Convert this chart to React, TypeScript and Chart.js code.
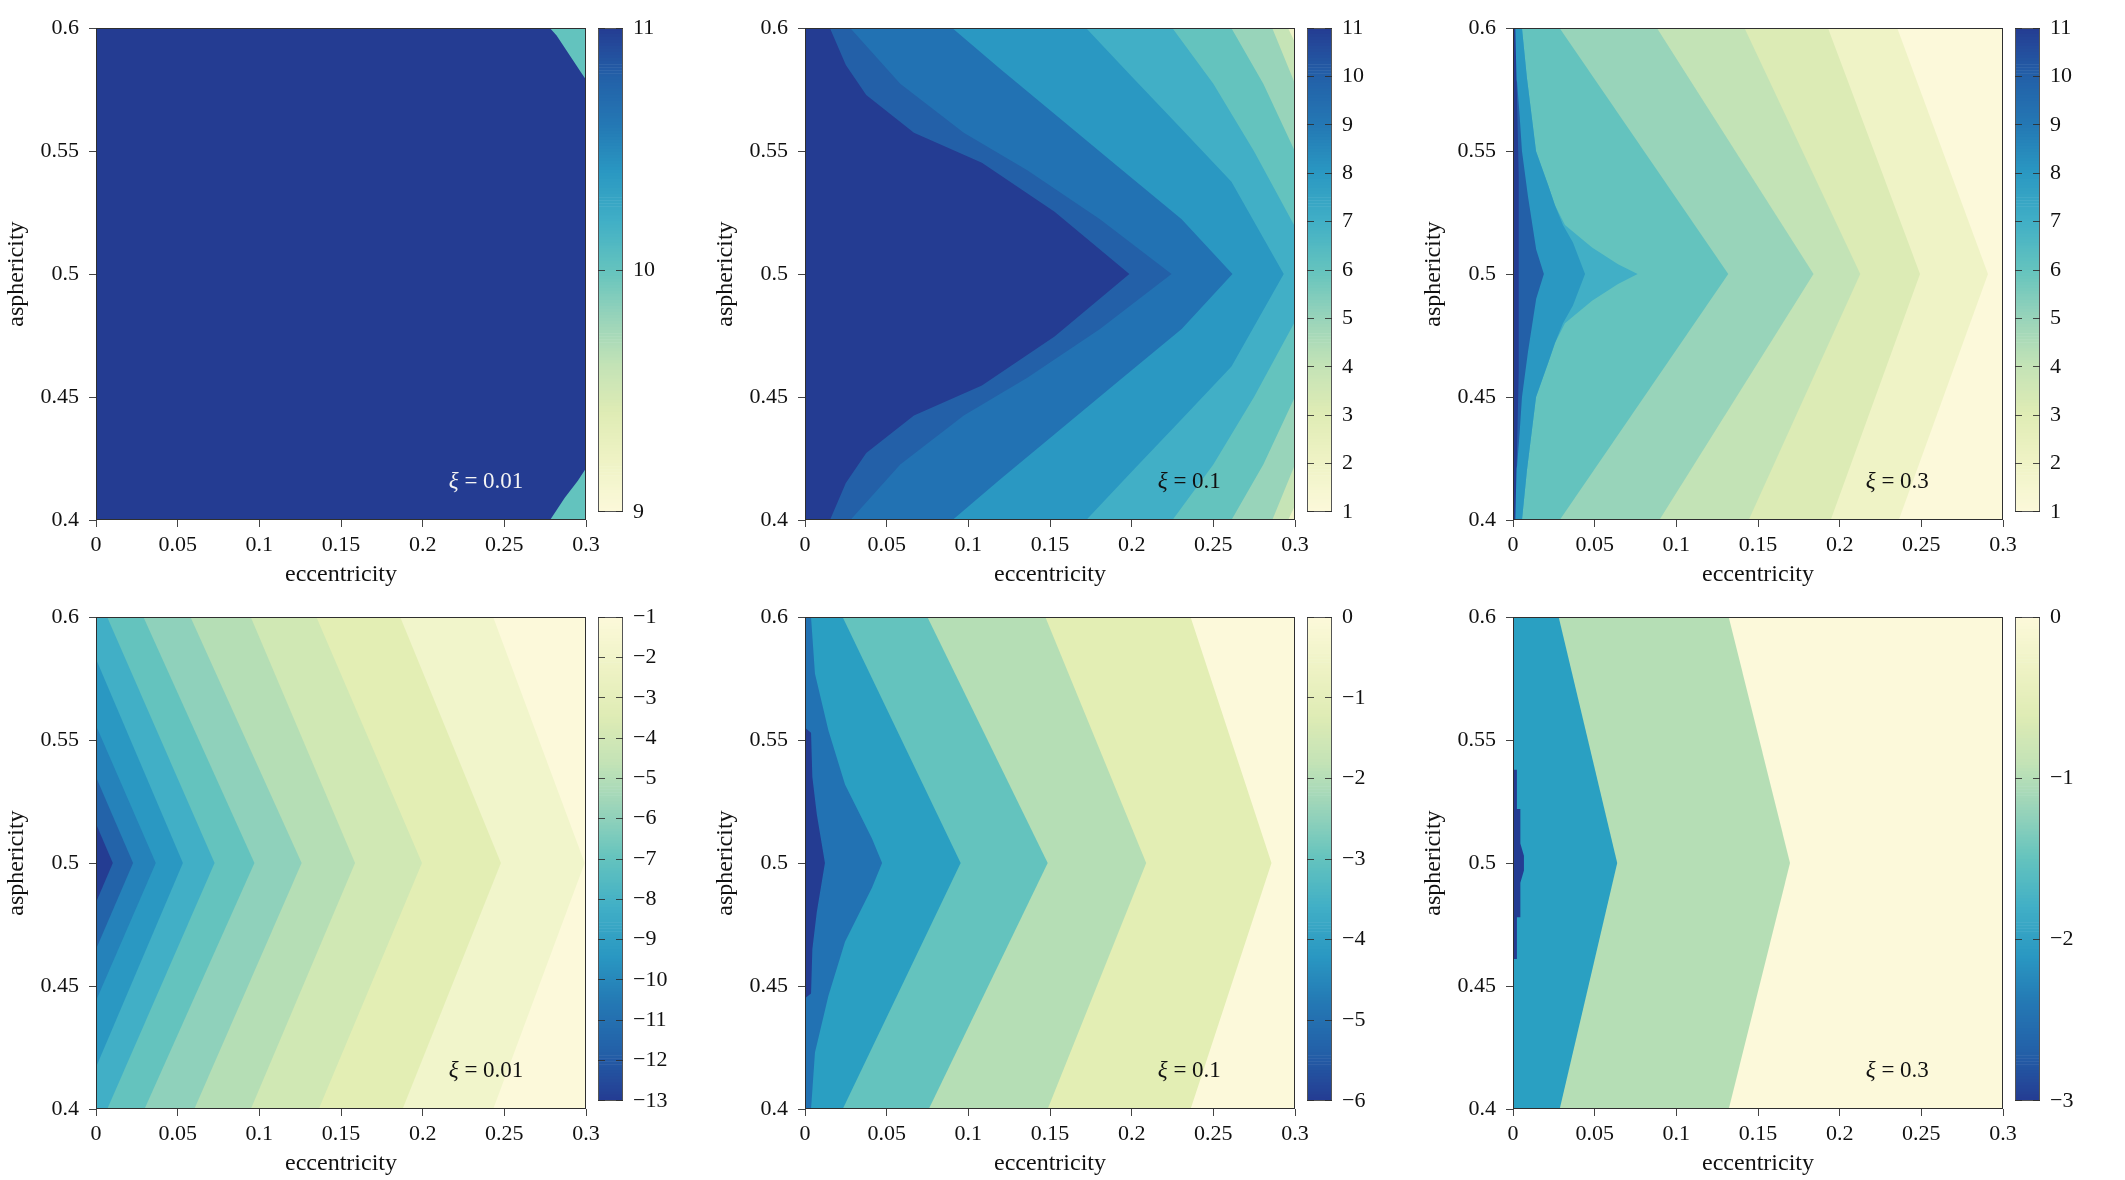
import React, { useEffect, useRef } from 'react';
import { Chart, registerables } from 'chart.js';

Chart.register(...registerables);

type Pt = [number, number];
type Side = 'left' | 'right';
interface Region { color: string; side: Side; pts: Pt[] }

const SERIF = '"Liberation Serif", "DejaVu Serif", serif';

const ECC_MIN = 0;
const ECC_MAX = 0.3;
const ASPH_MIN = 0.4;
const ASPH_MAX = 0.6;

const eccentricityTicks = [0, 0.05, 0.1, 0.15, 0.2, 0.25, 0.3];
const asphericityTicks = [0.4, 0.45, 0.5, 0.55, 0.6];

// YlGnBu-style colormap, light → dark
const colormapStops = [
  '#FCF9DA', '#EFF3C6', '#E0ECB5', '#C4E3B6', '#98D4BA', '#64C3BE',
  '#41AFC6', '#2A98C2', '#2478B4', '#2360A8', '#243C92',
];

// ---- top row, ξ = 0.01 (range 9 … 11) ----
const topXi001Base = '#243C92';
const topXi001Regions: Region[] = [
  { color: '#63C3BE', side: 'right', pts: [[0.278, 0.6], [0.282, 0.597], [0.29, 0.589], [0.297, 0.582], [0.3, 0.579]] },
  { color: '#63C3BE', side: 'right', pts: [[0.3, 0.421], [0.295, 0.416], [0.287, 0.409], [0.278, 0.4]] },
];
const topXi001Bar = [9, 11];

// ---- top row, ξ = 0.1 (range 1 … 11) ----
const topXi01Base = '#EEF3C8';
const topXi01Regions: Region[] = [
  { color: '#C6E4B6', side: 'left', pts: [[0.2958, 0.6], [0.3, 0.5942], [0.3, 0.4058], [0.2958, 0.4]] },
  { color: '#98D4BA', side: 'left', pts: [[0.2861, 0.6], [0.3, 0.5774], [0.3, 0.4226], [0.2861, 0.4]] },
  { color: '#64C3BE', side: 'left', pts: [[0.2611, 0.6], [0.2806, 0.5774], [0.3, 0.5499], [0.3, 0.4501], [0.2806, 0.4226], [0.2611, 0.4]] },
  { color: '#41AFC6', side: 'left', pts: [[0.225, 0.6], [0.25, 0.5774], [0.275, 0.5499], [0.3, 0.5193], [0.3, 0.4807], [0.275, 0.4501], [0.25, 0.4226], [0.225, 0.4]] },
  { color: '#2A98C2', side: 'left', pts: [[0.1722, 0.6], [0.2, 0.5804], [0.2306, 0.559], [0.2611, 0.5376], [0.2931, 0.5], [0.2611, 0.4624], [0.2306, 0.441], [0.2, 0.4196], [0.1722, 0.4]] },
  { color: '#2272B3', side: 'left', pts: [[0.0903, 0.6], [0.1194, 0.5835], [0.1528, 0.5651], [0.1917, 0.5437], [0.2306, 0.5223], [0.2617, 0.5], [0.2306, 0.4777], [0.1917, 0.4563], [0.1528, 0.4349], [0.1194, 0.4165], [0.0903, 0.4]] },
  { color: '#2360A8', side: 'left', pts: [[0.0278, 0.6], [0.0583, 0.5774], [0.0972, 0.5575], [0.1361, 0.5422], [0.1806, 0.5223], [0.2244, 0.5], [0.1806, 0.4777], [0.1361, 0.4578], [0.0972, 0.4425], [0.0583, 0.4226], [0.0278, 0.4]] },
  { color: '#243C92', side: 'left', pts: [[0.0153, 0.6], [0.025, 0.585], [0.0375, 0.5728], [0.0667, 0.5575], [0.1083, 0.5453], [0.1528, 0.5254], [0.1986, 0.5], [0.1528, 0.4746], [0.1083, 0.4547], [0.0667, 0.4425], [0.0375, 0.4272], [0.025, 0.415], [0.0153, 0.4]] },
];
const topXi01Bar = [1, 11];

// ---- top row, ξ = 0.3 (range 1 … 11) ----
const topXi03Base = '#FCF9DA';
const topXi03Regions: Region[] = [
  { color: '#EFF3C6', side: 'left', pts: [[0.2353, 0.6], [0.2908, 0.5], [0.2362, 0.4]] },
  { color: '#DCEBB5', side: 'left', pts: [[0.1929, 0.6], [0.2492, 0.5], [0.1945, 0.4]] },
  { color: '#C3E3B6', side: 'left', pts: [[0.1418, 0.6], [0.2126, 0.5], [0.1443, 0.4]] },
  { color: '#98D4BA', side: 'left', pts: [[0.0882, 0.6], [0.184, 0.5], [0.0896, 0.4]] },
  { color: '#64C3BE', side: 'left', pts: [[0.0286, 0.6], [0.1318, 0.5], [0.0286, 0.4]] },
  { color: '#41AFC6', side: 'left', pts: [[0.0055, 0.6], [0.0085, 0.58], [0.0141, 0.55], [0.0216, 0.536], [0.0257, 0.528], [0.0318, 0.52], [0.0484, 0.5108], [0.0643, 0.504], [0.0763, 0.5], [0.0643, 0.496], [0.0484, 0.4892], [0.0318, 0.48], [0.0257, 0.472], [0.0216, 0.464], [0.0141, 0.45], [0.0085, 0.42], [0.0055, 0.4]] },
  { color: '#2A98C2', side: 'left', pts: [[0.0055, 0.6], [0.0085, 0.58], [0.0141, 0.55], [0.0216, 0.536], [0.0257, 0.528], [0.0306, 0.52], [0.0367, 0.5128], [0.0441, 0.5], [0.0367, 0.4872], [0.0306, 0.48], [0.0257, 0.472], [0.0216, 0.464], [0.0141, 0.45], [0.0085, 0.42], [0.0055, 0.4]] },
  { color: '#2360A8', side: 'left', pts: [[0, 0.582], [0.0025, 0.578], [0.004, 0.565], [0.0055, 0.55], [0.0092, 0.5315], [0.0142, 0.51], [0.0189, 0.5], [0.0142, 0.49], [0.0092, 0.4685], [0.0055, 0.45], [0.004, 0.435], [0.0025, 0.422], [0, 0.418]] },
  { color: '#243C92', side: 'left', pts: [[0.0014, 0.6], [0.0025, 0.57], [0.0035, 0.54], [0.0035, 0.46], [0.0025, 0.43], [0.0014, 0.4]] },
];
const topXi03Bar = [1, 11];

// ---- bottom row, ξ = 0.01 (range −13 … −1) ----
const botXi001Base = '#FCF9DA';
const botXi001Regions: Region[] = [
  { color: '#F1F5CB', side: 'left', pts: [[0.2432, 0.6], [0.2992, 0.5], [0.2432, 0.4]] },
  { color: '#E3EEB4', side: 'left', pts: [[0.1863, 0.6], [0.2479, 0.5], [0.1877, 0.4]] },
  { color: '#D0E8B4', side: 'left', pts: [[0.135, 0.6], [0.1996, 0.5], [0.1364, 0.4]] },
  { color: '#B5DEB5', side: 'left', pts: [[0.0948, 0.6], [0.1586, 0.5], [0.0948, 0.4]] },
  { color: '#8FD1BB', side: 'left', pts: [[0.0579, 0.6], [0.1259, 0.5], [0.0602, 0.4]] },
  { color: '#64C3BE', side: 'left', pts: [[0.0291, 0.6], [0.097, 0.5], [0.0297, 0.4]] },
  { color: '#41AFC6', side: 'left', pts: [[0.0069, 0.6], [0.0726, 0.5], [0.0069, 0.4]] },
  { color: '#2A98C2', side: 'left', pts: [[0, 0.583], [0.0532, 0.5], [0, 0.417]] },
  { color: '#2582BA', side: 'left', pts: [[0, 0.556], [0.0366, 0.5], [0, 0.444]] },
  { color: '#2363A9', side: 'left', pts: [[0, 0.535], [0.0227, 0.5], [0, 0.465]] },
  { color: '#243C92', side: 'left', pts: [[0, 0.516], [0.0103, 0.5], [0, 0.484]] },
];
const botXi001Bar = [-13, -1];

// ---- bottom row, ξ = 0.1 (range −6 … 0) ----
const botXi01Base = '#FCF9DA';
const botXi01Regions: Region[] = [
  { color: '#E3EEB4', side: 'left', pts: [[0.2361, 0.6], [0.2856, 0.5], [0.2361, 0.4]] },
  { color: '#B5DEB5', side: 'left', pts: [[0.1472, 0.6], [0.2089, 0.5], [0.1486, 0.4]] },
  { color: '#64C3BE', side: 'left', pts: [[0.075, 0.6], [0.1486, 0.5], [0.0758, 0.4]] },
  { color: '#2A9FC2', side: 'left', pts: [[0.0231, 0.6], [0.0953, 0.5], [0.0231, 0.4]] },
  { color: '#2272B3', side: 'left', pts: [[0.0037, 0.6], [0.0061, 0.577], [0.0143, 0.554], [0.0245, 0.532], [0.041, 0.51], [0.0472, 0.5], [0.041, 0.49], [0.0245, 0.468], [0.0143, 0.446], [0.0061, 0.423], [0.0037, 0.4]] },
  { color: '#243C92', side: 'left', pts: [[0, 0.555], [0.0037, 0.553], [0.0045, 0.535], [0.0072, 0.52], [0.0122, 0.5], [0.0072, 0.48], [0.0045, 0.465], [0.0037, 0.447], [0, 0.445]] },
];
const botXi01Bar = [-6, 0];

// ---- bottom row, ξ = 0.3 (range −3 … 0) ----
const botXi03Base = '#FCF9DA';
const botXi03Regions: Region[] = [
  { color: '#B5DEB5', side: 'left', pts: [[0.1321, 0.6], [0.1696, 0.5], [0.1321, 0.4]] },
  { color: '#2AA0C2', side: 'left', pts: [[0.028, 0.6], [0.0638, 0.5], [0.0286, 0.4]] },
  { color: '#243C92', side: 'left', pts: [[0, 0.561], [0.0006, 0.561], [0.0006, 0.538], [0.0024, 0.538], [0.0024, 0.522], [0.0045, 0.522], [0.0045, 0.508], [0.0067, 0.503], [0.0067, 0.497], [0.0045, 0.492], [0.0045, 0.478], [0.0024, 0.478], [0.0024, 0.461], [0.0006, 0.461], [0.0006, 0.44], [0, 0.44]] },
];
const botXi03Bar = [-3, 0];

const xiValues = ['0.01', '0.1', '0.3'];
const xiLabelAt: Pt = [0.216, 0.4155];

// plot geometry
const PLOT_W = 490;
const PLOT_H = 500;
const COLUMN_LEFT = [96, 805, 1513];
const ROW_TOP = [20, 609];
const BAR_OFFSET = 502;
const BAR_W = 25;
const Y_AXIS_W = 96;
const X_AXIS_H = 72;
const PAD_TOP = 15;
const PAD_RIGHT = 20;
const BAR_AXIS_W = 60;
const BAR_PAD = 15;

interface PanelSpec {
  left: number; top: number; base: string; regions: Region[];
  bar: number[]; darkLow: boolean; xi: string; labelColor: string;
}

const panels: PanelSpec[] = [
  { left: COLUMN_LEFT[0], top: ROW_TOP[0], base: topXi001Base, regions: topXi001Regions, bar: topXi001Bar, darkLow: false, xi: xiValues[0], labelColor: '#F4F4F4' },
  { left: COLUMN_LEFT[1], top: ROW_TOP[0], base: topXi01Base, regions: topXi01Regions, bar: topXi01Bar, darkLow: false, xi: xiValues[1], labelColor: '#111' },
  { left: COLUMN_LEFT[2], top: ROW_TOP[0], base: topXi03Base, regions: topXi03Regions, bar: topXi03Bar, darkLow: false, xi: xiValues[2], labelColor: '#111' },
  { left: COLUMN_LEFT[0], top: ROW_TOP[1], base: botXi001Base, regions: botXi001Regions, bar: botXi001Bar, darkLow: true, xi: xiValues[0], labelColor: '#111' },
  { left: COLUMN_LEFT[1], top: ROW_TOP[1], base: botXi01Base, regions: botXi01Regions, bar: botXi01Bar, darkLow: true, xi: xiValues[1], labelColor: '#111' },
  { left: COLUMN_LEFT[2], top: ROW_TOP[1], base: botXi03Base, regions: botXi03Regions, bar: botXi03Bar, darkLow: true, xi: xiValues[2], labelColor: '#111' },
];

function hexToRgb(h: string): number[] {
  const n = parseInt(h.slice(1), 16);
  return [(n >> 16) & 255, (n >> 8) & 255, n & 255];
}

function colormapAt(t: number): string {
  const s = Math.min(Math.max(t, 0), 1) * (colormapStops.length - 1);
  const i = Math.min(Math.floor(s), colormapStops.length - 2);
  const f = s - i;
  const a = hexToRgb(colormapStops[i]);
  const b = hexToRgb(colormapStops[i + 1]);
  const c = a.map((v, k) => Math.round(v + (b[k] - v) * f));
  return `rgb(${c[0]},${c[1]},${c[2]})`;
}

const fmtNumber = (v: number) => (v < 0 ? '\u2212' + String(Math.abs(v)) : String(v));

const framePlugin = {
  id: 'frame',
  afterDatasetsDraw(chart: any, _args: any, opts: any) {
    const { ctx, chartArea } = chart;
    const { left, top, right, bottom } = chartArea;
    ctx.save();
    ctx.strokeStyle = opts.color || '#333';
    ctx.lineWidth = 1;
    ctx.strokeRect(Math.round(left) + 0.5, Math.round(top) + 0.5, Math.round(right - left) - 1, Math.round(bottom - top) - 1);
    ctx.restore();
  },
};

const xiLabelPlugin = {
  id: 'xiLabel',
  afterDatasetsDraw(chart: any, _args: any, opts: any) {
    if (!opts || !opts.value) return;
    const { ctx } = chart;
    const x = chart.scales.x.getPixelForValue(opts.e);
    const y = chart.scales.y.getPixelForValue(opts.a);
    ctx.save();
    ctx.fillStyle = opts.color;
    ctx.textBaseline = 'middle';
    ctx.textAlign = 'left';
    ctx.font = `italic 23px ${SERIF}`;
    ctx.fillText('\u03BE', x, y);
    const w = ctx.measureText('\u03BE').width;
    ctx.font = `23px ${SERIF}`;
    ctx.fillText(' = ' + opts.value, x + w, y);
    ctx.restore();
  },
};

function mainConfig(p: PanelSpec): any {
  const layers: Region[] = [
    { color: p.base, side: 'left', pts: [[ECC_MAX, ASPH_MAX], [ECC_MAX, ASPH_MIN]] },
    ...p.regions,
  ];
  const datasets = layers
    .map((r) => ({
      data: r.pts.map(([x, y]) => ({ x, y })),
      backgroundColor: r.color,
      borderColor: r.color,
      borderWidth: 0,
      pointRadius: 0,
      pointHoverRadius: 0,
      tension: 0,
      fill: { value: r.side === 'left' ? ECC_MIN : ECC_MAX },
      clip: 0,
    }))
    .reverse();

  const tickFont = { family: SERIF, size: 22 };
  const titleFont = { family: SERIF, size: 24 };
  return {
    type: 'line',
    data: { datasets },
    options: {
      indexAxis: 'y',
      responsive: false,
      animation: false,
      devicePixelRatio: 1,
      events: [],
      layout: { padding: { top: PAD_TOP, right: PAD_RIGHT, left: 0, bottom: 0 } },
      plugins: {
        legend: { display: false },
        tooltip: { enabled: false },
        frame: { color: '#2f2f2f' },
        xiLabel: { value: p.xi, e: xiLabelAt[0], a: xiLabelAt[1], color: p.labelColor },
      },
      scales: {
        x: {
          type: 'linear',
          position: 'bottom',
          min: ECC_MIN,
          max: ECC_MAX,
          afterBuildTicks: (s: any) => { s.ticks = eccentricityTicks.map((v) => ({ value: v })); },
          afterFit: (s: any) => { s.height = X_AXIS_H; },
          ticks: { font: tickFont, color: '#111', padding: 5, maxRotation: 0, autoSkip: false, callback: (v: any) => String(v) },
          grid: { display: true, drawOnChartArea: false, drawTicks: true, tickLength: 7, tickColor: '#444', tickWidth: 1 },
          border: { display: false },
          title: { display: true, text: 'eccentricity', font: titleFont, color: '#111', padding: { top: 0, bottom: 3 } },
        },
        y: {
          type: 'linear',
          position: 'left',
          min: ASPH_MIN,
          max: ASPH_MAX,
          afterBuildTicks: (s: any) => { s.ticks = asphericityTicks.map((v) => ({ value: v })); },
          afterFit: (s: any) => { s.width = Y_AXIS_W; },
          ticks: { font: tickFont, color: '#111', padding: 10, autoSkip: false, callback: (v: any) => String(v) },
          grid: { display: true, drawOnChartArea: false, drawTicks: true, tickLength: 7, tickColor: '#444', tickWidth: 1 },
          border: { display: false },
          title: { display: true, text: 'asphericity', font: titleFont, color: '#111', padding: { top: 2, bottom: 0 } },
        },
      },
    },
    plugins: [framePlugin, xiLabelPlugin],
  };
}

function colorbarConfig(p: PanelSpec): any {
  const [lo, hi] = p.bar;
  const segments = 160;
  const datasets: any[] = [];
  for (let k = 0; k < segments; k++) {
    const v0 = lo + ((hi - lo) * k) / segments;
    const v1 = lo + ((hi - lo) * (k + 1)) / segments;
    const t = (k + 0.5) / segments;
    datasets.push({
      data: [[v0, v1]],
      backgroundColor: colormapAt(p.darkLow ? 1 - t : t),
      borderWidth: 0,
      grouped: false,
      barPercentage: 1,
      categoryPercentage: 1,
    });
  }
  return {
    type: 'bar',
    data: { labels: [''], datasets },
    options: {
      responsive: false,
      animation: false,
      devicePixelRatio: 1,
      events: [],
      layout: { padding: { top: BAR_PAD, bottom: BAR_PAD, left: 0, right: 0 } },
      plugins: {
        legend: { display: false },
        tooltip: { enabled: false },
        frame: { color: '#555' },
        xiLabel: { value: '' },
      },
      scales: {
        x: { display: false },
        y: {
          type: 'linear',
          position: 'right',
          min: lo,
          max: hi,
          afterFit: (s: any) => { s.width = BAR_AXIS_W; },
          ticks: { stepSize: 1, font: { family: SERIF, size: 22 }, color: '#111', padding: 10, autoSkip: false, callback: (v: any) => fmtNumber(Number(v)) },
          grid: { display: true, drawOnChartArea: true, drawTicks: false, color: 'rgba(45,45,45,0.85)', lineWidth: 1, z: 1 },
          border: { display: false, dash: [7, 11] },
        },
      },
    },
    plugins: [framePlugin],
  };
}

export default function App() {
  const refs = useRef<(HTMLCanvasElement | null)[]>([]);

  useEffect(() => {
    const charts: Chart[] = [];
    panels.forEach((p, i) => {
      const main = refs.current[2 * i];
      const bar = refs.current[2 * i + 1];
      if (main) charts.push(new Chart(main, mainConfig(p)));
      if (bar) charts.push(new Chart(bar, colorbarConfig(p)));
    });
    return () => charts.forEach((c) => c.destroy());
  }, []);

  const mainW = Y_AXIS_W + PLOT_W + PAD_RIGHT;
  const mainH = PAD_TOP + PLOT_H + X_AXIS_H;
  const barW = BAR_W + BAR_AXIS_W;
  const barH = BAR_PAD * 2 + PLOT_H;

  return (
    <div style={{ position: 'absolute', left: 0, top: 0, width: 2125, height: 1180, overflow: 'hidden', background: '#ffffff' }}>
      {panels.map((p, i) => (
        <React.Fragment key={i}>
          <canvas
            ref={(el) => { refs.current[2 * i] = el; }}
            width={mainW}
            height={mainH}
            style={{ position: 'absolute', left: p.left - Y_AXIS_W, top: p.top - PAD_TOP, width: mainW, height: mainH }}
          />
          <canvas
            ref={(el) => { refs.current[2 * i + 1] = el; }}
            width={barW}
            height={barH}
            style={{ position: 'absolute', left: p.left + BAR_OFFSET, top: p.top - BAR_PAD, width: barW, height: barH }}
          />
        </React.Fragment>
      ))}
    </div>
  );
}
